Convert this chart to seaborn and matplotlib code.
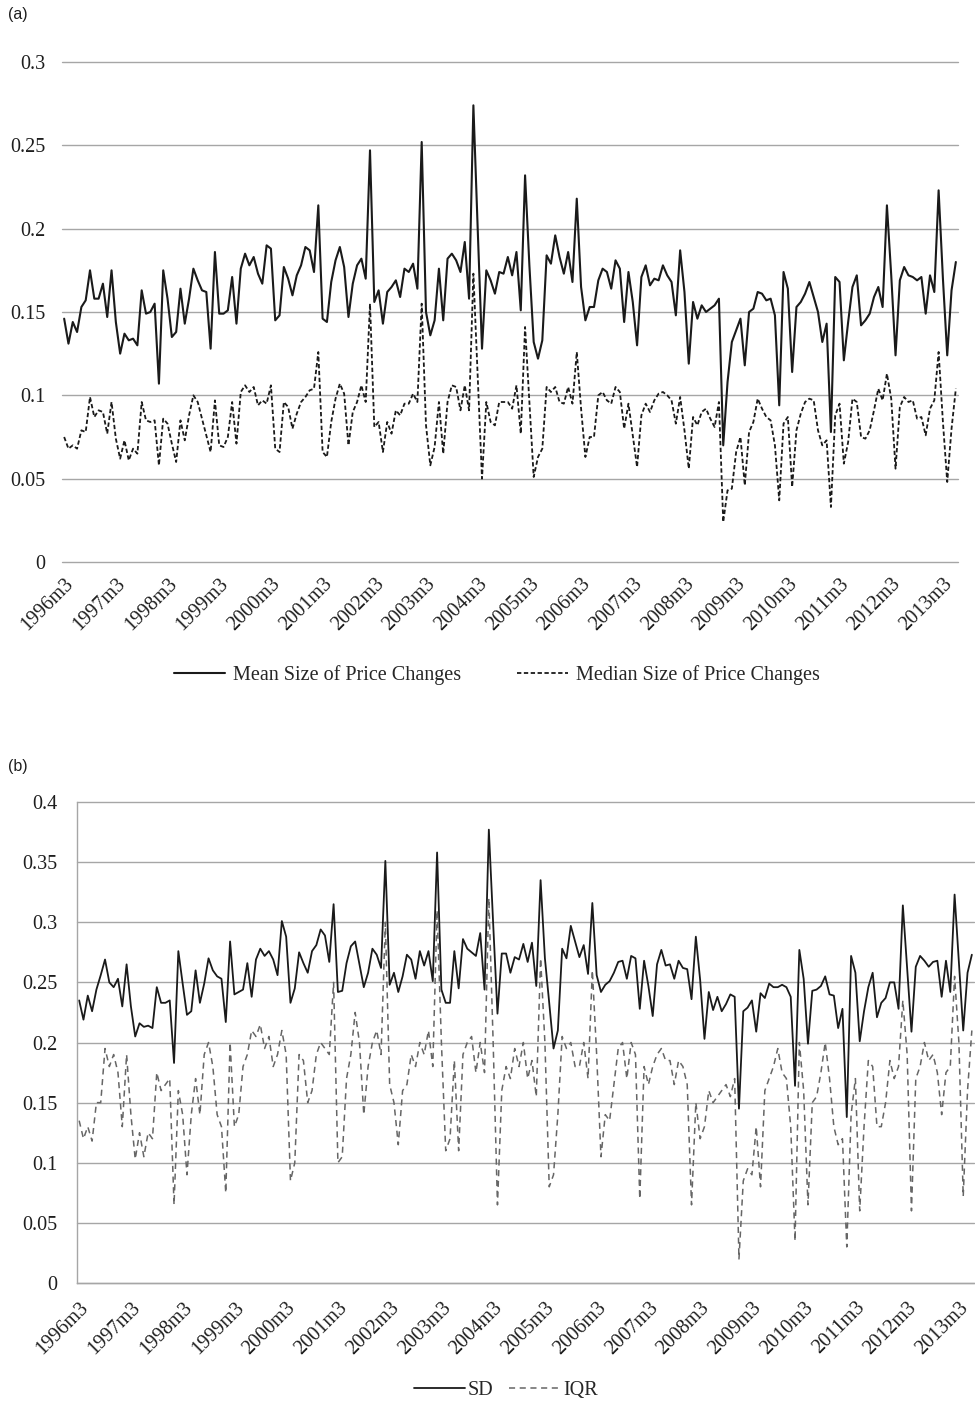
import numpy as np
import pandas as pd
import matplotlib
matplotlib.use("Agg")
import matplotlib.pyplot as plt
import seaborn as sns

# ---------------- data ----------------
start_year, start_month = 1996, 3
n_months = 208
months = []
y, m = start_year, start_month
for _ in range(n_months):
    months.append(f"{y}m{m}")
    m += 1
    if m > 12:
        m = 1
        y += 1

tick_labels = [f"{yr}m3" for yr in range(1996, 2014)]

mean_size = [
    .146,.131,.144,.138,.153,.157,.175,.158,.158,.167,.147,.175,.144,.125,.137,.133,.134,.130,.163,.149,.150,.155,.107,.175,.158,.135,.138,.164,.143,.158,.176,.169,.163,.162,.128,.186,.149,.149,.151,.171,.143,.176,
    .185,.178,.183,.173,.167,.190,.188,.145,.148,.177,.170,.160,.172,.178,.189,.187,.174,.214,.146,.144,.168,.181,.189,.177,.147,.167,.178,.182,.170,.247,.156,.163,.143,.162,.165,.169,.159,.176,.174,.179,.164,.252,
    .150,.136,.145,.176,.145,.182,.185,.181,.174,.192,.158,.274,.200,.128,.175,.169,.161,.174,.173,.183,.172,.186,.151,.232,.178,.132,.122,.133,.184,.179,.196,.183,.173,.186,.168,.218,.165,.145,.153,.153,.169,.176,
    .174,.164,.181,.176,.144,.174,.156,.130,.171,.178,.166,.170,.169,.178,.172,.168,.148,.187,.162,.119,.156,.146,.154,.150,.152,.154,.158,.070,.108,.132,.139,.146,.118,.150,.152,.162,.161,.157,.158,.148,.094,.174,
    .164,.114,.153,.156,.161,.168,.159,.150,.132,.143,.078,.171,.168,.121,.144,.165,.172,.142,.145,.149,.159,.165,.153,.214,.172,.124,.169,.177,.172,.171,.169,.171,.149,.172,.162,.223,.170,.124,.163,.180,
]

median_size = [
    .075,.068,.070,.068,.079,.078,.099,.087,.091,.090,.077,.096,.074,.062,.073,.061,.068,.065,.096,.085,.084,.085,.058,.086,.083,.071,.060,.085,.073,.088,.100,.096,.086,.076,.066,.097,.070,.069,.075,.096,.071,.102,
    .106,.102,.105,.094,.097,.095,.106,.068,.066,.096,.093,.080,.089,.096,.099,.103,.104,.126,.066,.063,.084,.098,.107,.101,.070,.090,.096,.106,.096,.155,.081,.084,.066,.084,.077,.091,.088,.095,.095,.101,.096,.155,
    .082,.058,.069,.096,.065,.096,.106,.105,.091,.106,.091,.173,.112,.050,.096,.084,.082,.096,.096,.096,.092,.106,.077,.141,.096,.051,.063,.068,.105,.102,.105,.096,.095,.105,.095,.126,.092,.063,.075,.075,.100,.102,
    .097,.095,.105,.102,.080,.095,.076,.057,.088,.095,.090,.097,.101,.102,.100,.097,.083,.099,.079,.056,.087,.082,.090,.092,.086,.081,.096,.024,.043,.044,.066,.075,.046,.078,.084,.098,.092,.087,.085,.070,.037,.083,
    .087,.045,.079,.089,.096,.098,.097,.079,.070,.073,.033,.088,.095,.059,.072,.098,.096,.075,.074,.079,.091,.104,.097,.113,.098,.056,.093,.099,.096,.097,.086,.087,.076,.092,.097,.126,.084,.048,.080,.104,
]

sd = [
    .235,.219,.239,.226,.244,.256,.269,.250,.246,.253,.230,.265,.230,.205,.216,.213,.214,.212,.246,.233,.233,.235,.183,.276,.249,.223,.226,.260,.233,.249,.270,.260,.255,.253,.217,.284,.240,.242,.244,.266,.238,.269,
    .278,.272,.276,.269,.256,.301,.288,.233,.245,.275,.266,.258,.276,.281,.294,.289,.267,.315,.242,.243,.266,.280,.284,.265,.246,.258,.278,.273,.262,.351,.248,.258,.242,.255,.273,.269,.253,.276,.264,.276,.251,.358,
    .244,.233,.233,.276,.245,.286,.278,.275,.272,.291,.244,.377,.299,.224,.274,.274,.258,.271,.269,.282,.267,.283,.247,.335,.270,.233,.195,.210,.278,.270,.297,.284,.271,.281,.257,.316,.256,.242,.248,.251,.258,.267,
    .268,.253,.272,.270,.228,.268,.247,.222,.265,.277,.264,.265,.253,.268,.262,.261,.236,.288,.252,.203,.242,.227,.238,.226,.232,.240,.238,.145,.226,.229,.235,.209,.241,.237,.249,.246,.246,.248,.246,.238,.164,.277,
    .253,.199,.243,.244,.247,.255,.240,.239,.212,.228,.138,.272,.258,.201,.226,.246,.258,.221,.233,.237,.250,.250,.228,.314,.262,.209,.263,.272,.268,.263,.267,.268,.238,.268,.242,.323,.266,.210,.258,.273,
]

iqr = [
    .135,.120,.130,.118,.150,.150,.195,.180,.190,.175,.130,.190,.140,.103,.125,.105,.125,.120,.175,.160,.165,.170,.065,.160,.140,.090,.140,.170,.140,.190,.200,.180,.140,.130,.075,.200,.130,.140,.180,.190,.210,.205,
    .215,.195,.205,.180,.190,.210,.190,.085,.100,.190,.185,.150,.160,.190,.200,.195,.190,.250,.100,.105,.170,.190,.225,.200,.140,.180,.200,.210,.190,.300,.165,.150,.115,.160,.165,.190,.180,.200,.190,.210,.180,.310,
    .200,.110,.120,.185,.110,.190,.200,.205,.175,.200,.175,.320,.200,.065,.160,.180,.170,.195,.180,.200,.170,.185,.155,.270,.200,.080,.090,.140,.205,.195,.200,.180,.180,.200,.170,.260,.190,.105,.140,.135,.165,.195,
    .200,.170,.200,.190,.070,.180,.165,.180,.190,.195,.185,.185,.165,.185,.180,.165,.065,.150,.120,.130,.160,.150,.155,.160,.165,.155,.170,.020,.085,.095,.090,.130,.080,.160,.170,.180,.195,.175,.170,.130,.035,.200,
    .160,.065,.150,.155,.175,.200,.170,.130,.115,.120,.030,.140,.170,.060,.130,.185,.180,.130,.130,.150,.185,.170,.180,.235,.190,.060,.170,.180,.200,.185,.190,.175,.140,.175,.180,.255,.200,.072,.160,.210,
]

df = pd.DataFrame({"idx": np.arange(n_months), "month": months,
                   "mean": mean_size, "median": median_size,
                   "sd": sd, "iqr": iqr})

# ---------------- style ----------------
sns.set_style("white")
plt.rcParams["font.family"] = ["Liberation Serif", "DejaVu Serif"]

W, H = 975, 1403
fig = plt.figure(figsize=(W / 100, H / 100), dpi=100)

grid_c = "#A6A6A6"
txt_c = "#1e1e1e"
FS = 14.5

tick_pos = np.arange(0, n_months, 12)

# ---------- panel (a) ----------
ax1 = fig.add_axes([62 / W, 1 - 562 / H, 896 / W, 500 / H])
sns.lineplot(data=df, x="idx", y="mean", ax=ax1, color="#1a1a1a", lw=1.5,
             label="Mean Size of Price Changes")
sns.lineplot(data=df, x="idx", y="median", ax=ax1, color="#1a1a1a", lw=1.3,
             linestyle=(0, (2.4, 1.4)), label="Median Size of Price Changes")
ax1.set_xlim(-0.5, n_months - 0.5)
ax1.set_ylim(0, 0.3)
ax1.set_yticks([0, 0.05, 0.1, 0.15, 0.2, 0.25, 0.3])
ax1.set_yticklabels(["0", "0.05", "0.1", "0.15", "0.2", "0.25", "0.3"])
ax1.yaxis.grid(True, color=grid_c, lw=1.0)
for gl in ax1.get_ygridlines():
    gl.set_clip_on(False)
ax1.set_axisbelow(True)
for s in ax1.spines.values():
    s.set_visible(False)
ax1.set_xticks(tick_pos)
ax1.set_xticklabels(tick_labels[:len(tick_pos)], rotation=45,
                    ha="right", rotation_mode="anchor")
ax1.tick_params(axis="x", length=0, pad=9, labelsize=FS, colors=txt_c)
ax1.tick_params(axis="y", length=0, pad=12, labelsize=FS, colors=txt_c)
ax1.set_xlabel("")
ax1.set_ylabel("")
h1, l1 = ax1.get_legend_handles_labels()
ax1.get_legend().remove()
fig.legend(h1, l1, loc="center", bbox_to_anchor=(497 / W, 1 - 675 / H), ncol=2,
           frameon=False, fontsize=FS, handlelength=2.5, columnspacing=2.8,
           handletextpad=0.4)

# ---------- panel (b) ----------
ax2 = fig.add_axes([77 / W, 1 - 1283 / H, 897 / W, 481 / H])
sns.lineplot(data=df, x="idx", y="sd", ax=ax2, color="#1a1a1a", lw=1.3, label="SD")
sns.lineplot(data=df, x="idx", y="iqr", ax=ax2, color="#666666", lw=1.1,
             linestyle=(0, (4, 3)), label="IQR")
ax2.set_xlim(-0.5, n_months - 0.5)
ax2.set_ylim(0, 0.4)
ax2.set_yticks([0, 0.05, 0.1, 0.15, 0.2, 0.25, 0.3, 0.35, 0.4])
ax2.set_yticklabels(["0", "0.05", "0.1", "0.15", "0.2", "0.25", "0.3", "0.35", "0.4"])
ax2.yaxis.grid(True, color=grid_c, lw=1.0)
for gl in ax2.get_ygridlines():
    gl.set_clip_on(False)
ax2.set_axisbelow(True)
for k in ["top", "right"]:
    ax2.spines[k].set_visible(False)
for k in ["left", "bottom"]:
    ax2.spines[k].set_color(grid_c)
    ax2.spines[k].set_linewidth(1.0)
ax2.set_xticks(tick_pos)
ax2.set_xticklabels(tick_labels[:len(tick_pos)], rotation=45,
                    ha="right", rotation_mode="anchor")
ax2.set_xticks(np.arange(-0.5, n_months, 1), minor=True)
ax2.tick_params(axis="x", which="major", length=0, pad=11, labelsize=FS, colors=txt_c)
ax2.tick_params(axis="x", which="minor", length=4, width=0.8, color=grid_c, direction="out")
ax2.tick_params(axis="y", length=0, pad=14, labelsize=FS, colors=txt_c)
ax2.set_xlabel("")
ax2.set_ylabel("")
h2, l2 = ax2.get_legend_handles_labels()
ax2.get_legend().remove()
fig.legend(h2, l2, loc="center", bbox_to_anchor=(506 / W, 1 - 1390 / H), ncol=2,
           frameon=False, fontsize=FS, handlelength=2.5, columnspacing=0.8,
           handletextpad=0.15)

fig.text(8 / W, 1 - 15 / H, "(a)", family=["Liberation Sans", "DejaVu Sans"],
         fontsize=11.5, va="center", ha="left", color=txt_c)
fig.text(8 / W, 1 - 767 / H, "(b)", family=["Liberation Sans", "DejaVu Sans"],
         fontsize=11.5, va="center", ha="left", color=txt_c)

fig.savefig("out.png", dpi=100)
